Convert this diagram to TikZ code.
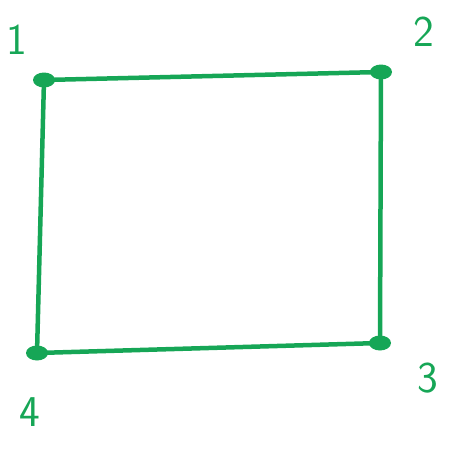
\documentclass[tikz,border=0pt]{standalone}
\usetikzlibrary{positioning,shapes.geometric}
\definecolor{pen}{RGB}{22,166,86}

\begin{document}
\begin{tikzpicture}[x=1pt,y=-1pt,
  vertex/.style={ellipse,fill=pen,inner sep=0pt,minimum width=22pt,minimum height=15pt},
  edge/.style={draw=pen,line width=4.5pt,line cap=round},
  lbl/.style={font=\fontsize{44}{44}\selectfont\sffamily,text=pen},
]
\useasboundingbox (0,0) rectangle (451,452);

% Corners of the square
\node[vertex] (v1) at (44,80)  {};
\node[vertex] (v2) at (381,72) {};
\node[vertex] (v3) at (380,343) {};
\node[vertex] (v4) at (37,353) {};

% Sides
\draw[edge] (v1.center) -- (v2.center);
\draw[edge] (v2.center) -- (v3.center);
\draw[edge] (v3.center) -- (v4.center);
\draw[edge] (v4.center) -- (v1.center);

% Corner labels
\node[lbl] (l1) at (17,40)  {1};
\node[lbl] (l2) at (424,32) {2};
\node[lbl] (l3) at (428,378) {3};
\node[lbl] (l4) at (30,412) {4};

\end{tikzpicture}
\end{document}
